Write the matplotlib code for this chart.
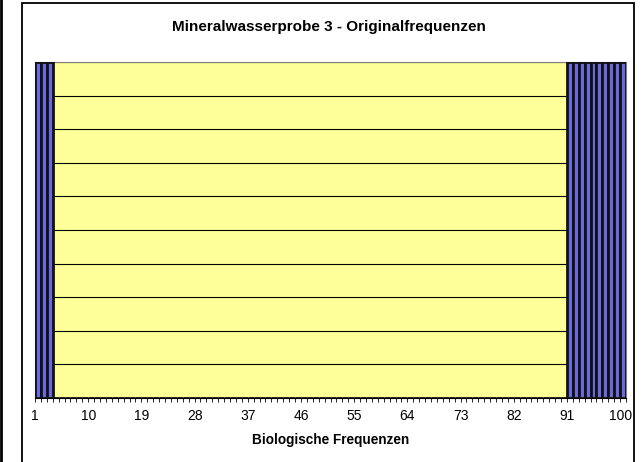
import numpy as np
import matplotlib.pyplot as plt
from matplotlib.patches import Rectangle
from matplotlib.lines import Line2D

plt.rcParams['font.family'] = ['Liberation Sans', 'DejaVu Sans']

# Daten
categories = list(range(1, 101))
values = [100, 100, 100] + [0] * 87 + [100] * 10
tick_labels = ['1', '10', '19', '28', '37', '46', '55', '64', '73', '82', '91', '100']

W, H = 642, 462
fig = plt.figure(figsize=(W / 100, H / 100), dpi=100)

# Rahmen (Diagrammbereich)
fig.patches.append(Rectangle((22 / W, -0.05), (634 - 22) / W, 1.05 - 3 / H,
                             transform=fig.transFigure, fill=False,
                             edgecolor='black', linewidth=1.3))
fig.lines.append(Line2D([1.5 / W, 1.5 / W], [0, 1], transform=fig.transFigure,
                        color='black', linewidth=2))

ax = fig.add_axes([35 / W, 1 - 398 / H, (626 - 35) / W, (398 - 62) / H])
ax.set_facecolor('#FFFF99')

ax.bar(categories, values, width=1.0, color='#6A6AE0', edgecolor='#111111',
       linewidth=2.0, zorder=3)

ax.set_xlim(0.5, 100.5)
ax.set_ylim(0, 100)
ax.set_yticks(np.arange(0, 101, 10))
ax.yaxis.grid(True, color='black', linewidth=0.8, zorder=1)
ax.tick_params(axis='y', left=False, labelleft=False)

ax.set_xticks([int(t) - 0.5 for t in tick_labels])
ax.set_xticklabels(tick_labels, fontsize=10)
ax.set_xticks(np.arange(0.5, 101, 1), minor=True)
ax.tick_params(axis='x', which='both', direction='out', length=3, width=0.6,
               pad=5)

for side in ['top', 'right', 'left']:
    ax.spines[side].set_color('#808080')
ax.spines['bottom'].set_color('black')

ax.set_xlabel('Biologische Frequenzen', fontsize=9.8, fontweight='bold', labelpad=7)
fig.text(329 / W, 1 - 27 / H, 'Mineralwasserprobe 3 - Originalfrequenzen',
         ha='center', va='center', fontsize=11, fontweight='bold')

fig.savefig('out.png', dpi=100)
